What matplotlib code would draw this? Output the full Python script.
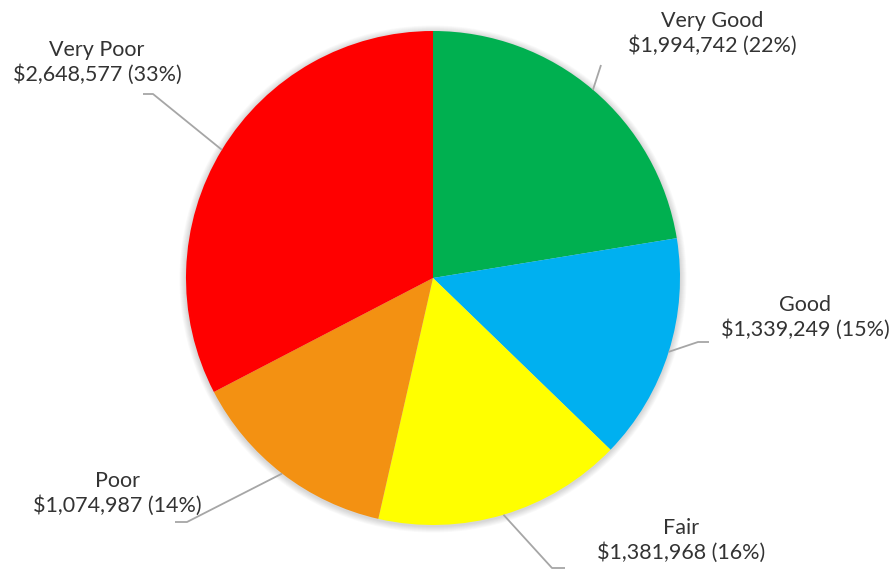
import numpy as np
import matplotlib
matplotlib.use("Agg")
import matplotlib.pyplot as plt
from matplotlib.patches import Circle

# Condition categories, their slice shares (%) and dollar amounts
categories = ["Very Good", "Good", "Fair", "Poor", "Very Poor"]
shares = [22.4, 14.8, 16.3, 13.8, 32.6]
amounts = [1994742, 1339249, 1381968, 1074987, 2648577]
colors = ["#00B050", "#00B0F0", "#FFFF00", "#F39112", "#FF0000"]

W, H = 896, 569
fig = plt.figure(figsize=(W / 100, H / 100), dpi=100)
ax = fig.add_axes([0, 0, 1, 1])

cx, cy, r = 433, 278, 247

# soft shadow around the pie
for k in range(8):
    ax.add_patch(Circle((cx, cy + 1), r + 1 + k * 0.8, facecolor="black",
                        edgecolor="none", alpha=0.018, zorder=0))

# y axis runs downward, so counter-clockwise in data space reads clockwise
wedges, _ = ax.pie(shares, colors=colors, startangle=-90, counterclock=True,
                   center=(cx, cy), radius=r, frame=True,
                   wedgeprops=dict(linewidth=0, zorder=2))
ax.set_xlim(0, W)
ax.set_ylim(H, 0)
ax.set_aspect("equal")
ax.axis("off")

# label text placement and leader line bend points
label_pos = [(712, 33), (805, 317), (681, 540), (117, 493), (97, 62)]
elbows = [[(601, 65)], [(698, 342), (709, 342)], [(552, 568), (565, 568)],
          [(187, 522), (175, 522)], [(153, 94), (143, 94)]]

total = sum(shares)
cum = 0.0
for name, s, amt, (tx, ty), elb in zip(categories, shares, amounts, label_pos, elbows):
    mid = (cum + s / 2) / total * 2 * np.pi
    cum += s
    sx = cx + r * np.sin(mid)
    sy = cy - r * np.cos(mid)
    xs = [sx] + [p[0] for p in elb]
    ys = [sy] + [p[1] for p in elb]
    ax.plot(xs, ys, color="#A6A6A6", lw=1.3, zorder=3, solid_capstyle="butt")
    pct = round(s / total * 100)
    ax.text(tx, ty, f"{name}\n${amt:,.0f} ({pct}%)", ha="center", va="center",
            fontsize=15.5, family="Lato", color="#333333", linespacing=1.25,
            zorder=4)

fig.savefig("out.png", dpi=100)
